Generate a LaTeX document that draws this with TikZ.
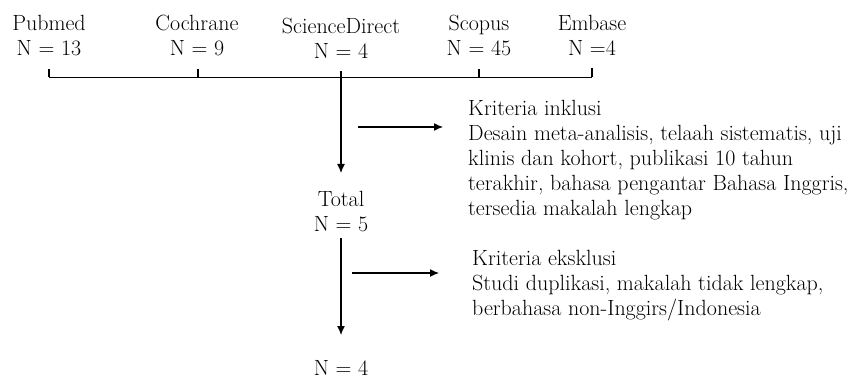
\documentclass[tikz,border=0pt]{standalone}
\usetikzlibrary{arrows.meta}
\begin{document}
\begin{tikzpicture}[x=1pt,y=-1pt,
  every node/.style={font=\fontsize{22}{25}\selectfont,inner sep=0pt},
  src/.style={align=center,anchor=north},
  crit/.style={align=left,anchor=north west},
  flow/.style={line width=1.2pt},
  arr/.style={flow,-{Latex[length=9pt,width=8pt]}}]
  \useasboundingbox (0,0) rectangle (853,379);
  \node [src] (pubmed) at (49,15) {Pubmed\\N = 13};
  \node [src] (cochrane) at (197,15) {Cochrane\\N = 9};
  \node [src] (scidir) at (341,18) {ScienceDirect\\N = 4};
  \node [src] (scopus) at (479,15) {Scopus\\N = 45};
  \node [src] (embase) at (592,15) {Embase\\N =4};
  \coordinate (bpub) at (49,77.5);
  \coordinate (bcoch) at (198,77.5);
  \coordinate (bsd) at (341,77.5);
  \coordinate (bsco) at (479,77.5);
  \coordinate (bemb) at (592,77.5);
  \draw [flow] (bpub) -- (bemb);
  \draw [flow,shorten <=13pt] (pubmed.south) -- (bpub);
  \draw [flow,shorten <=13pt] (cochrane.south -| bcoch) -- (bcoch);
  \draw [flow,shorten <=13pt] (scopus.south) -- (bsco);
  \draw [flow,shorten <=12pt] (embase.south) -- (bemb);
  \node [src] (total) at (341,191) {Total\\N = 5};
  \node [src] (final) at (341,360) {N = 4};
  \draw [arr,shorten <=12pt,shorten >=18pt] (scidir.south) -- (total.north);
  \draw [arr,shorten <=6pt,shorten >=25pt] (total.south) -- (final.north);
  \node [crit] (inkl) at (468,100) {Kriteria inklusi\\
    Desain meta-analisis, telaah sistematis, uji\\
    klinis dan kohort, publikasi 10 tahun\\
    terakhir, bahasa pengantar Bahasa Inggris,\\
    tersedia makalah lengkap};
  \node [crit] (eksk) at (472,250) {Kriteria eksklusi\\
    Studi duplikasi, makalah tidak lengkap,\\
    berbahasa non-Inggirs/Indonesia};
  \coordinate (ia) at (358,127);
  \coordinate (ea) at (352,273);
  \draw [arr,shorten >=25pt] (ia) -- (ia -| inkl.west);
  \draw [arr,shorten >=33pt] (ea) -- (ea -| eksk.west);
\end{tikzpicture}
\end{document}
